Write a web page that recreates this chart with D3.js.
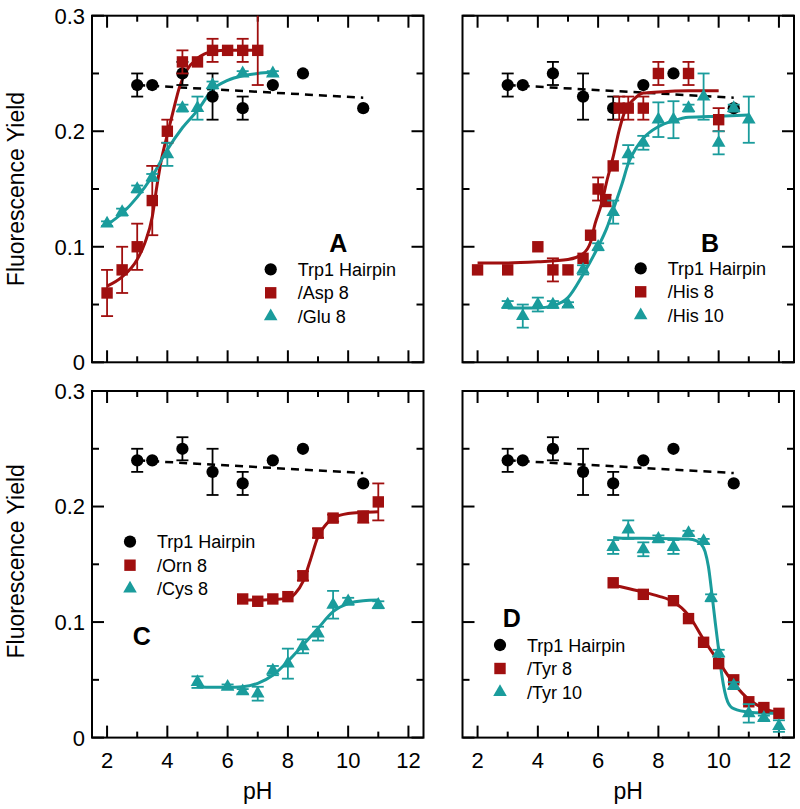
<!DOCTYPE html>
<html><head><meta charset="utf-8">
<script src="https://cdn.jsdelivr.net/npm/d3@7"></script>
<style>body{margin:0;background:#fff} svg{display:block}</style>
</head><body>
<svg id="chart" width="800" height="809"></svg>
<script>
// ---------- DATA ----------
const xTickValues = [2,3,4,5,6,7,8,9,10,11,12];
const xTickLabels = [2,4,6,8,10,12];
const yTickValues = [0,0.05,0.1,0.15,0.2,0.25,0.3];
const yTickLabels = [0,0.1,0.2,0.3];

// Trp1 Hairpin (same in all panels)
const hairpinX   = [3,3.5,4.5,5.5,6.5,7.5,8.5,10.5];
const hairpinY   = [0.24,0.24,0.25,0.23,0.22,0.24,0.25,0.22];
const hairpinErr = [0.01,0,0.01,0.02,0.01,0,0,0];
const hairpinTrendX = [3,10.5];
const hairpinTrendY = [0.240,0.229];

// Panel A
const asp8X   = [2,2.5,3,3.5,4,4.5,5,5.5,6,6.5,7];
const asp8Y   = [0.06,0.08,0.10,0.14,0.20,0.26,0.26,0.27,0.27,0.27,0.27];
const asp8Err = [0.02,0.02,0.02,0.03,0.01,0.01,0,0.01,0,0.01,0.03];
const asp8FitX = [2,2.5,3,3.25,3.5,3.65,3.8,4,4.2,4.4,4.65,5,5.5,6,7];
const asp8FitY = [0.066,0.074,0.089,0.103,0.126,0.152,0.175,0.197,0.218,0.238,0.253,0.263,0.269,0.270,0.270];
const glu8X   = [2,2.5,3,3.5,4,4.5,5,5.5,6.5,7.5];
const glu8Y   = [0.12,0.13,0.15,0.16,0.18,0.22,0.22,0.24,0.25,0.25];
const glu8Err = [0.002,0.003,0.003,0.003,0.01,0.003,0.01,0.003,0.002,0.002];
const glu8FitX = [2,2.5,3,3.5,4,4.5,5,5.5,6,6.5,7,7.5];
const glu8FitY = [0.119,0.129,0.143,0.161,0.184,0.203,0.218,0.236,0.244,0.248,0.250,0.251];

// Panel B
const his8X   = [2,3,4,4.5,5,5.5,5.75,6,6.25,6.5,6.7,7,7.5,8,9,10];
const his8Y   = [0.08,0.08,0.10,0.08,0.08,0.09,0.11,0.15,0.14,0.17,0.22,0.22,0.22,0.25,0.25,0.21];
const his8Err = [0,0,0,0.01,0,0,0,0.01,0.005,0,0.01,0.01,0.01,0.01,0.01,0.01];
const his8FitX = [2,3,4,5,5.5,5.75,5.9,6.1,6.3,6.5,6.7,6.9,7.2,7.5,8,9,10];
const his8FitY = [0.086,0.086,0.087,0.089,0.094,0.104,0.120,0.136,0.158,0.178,0.201,0.218,0.228,0.233,0.234,0.235,0.235];
const his10X   = [3,3.5,4,4.5,5,5.5,6,6.5,7,7.5,8,8.5,9,9.5,10,10.5,11];
const his10Y   = [0.05,0.04,0.05,0.05,0.05,0.08,0.10,0.13,0.18,0.19,0.21,0.21,0.22,0.23,0.19,0.22,0.21];
const his10Err = [0.003,0.01,0.006,0.003,0.002,0.004,0.003,0.01,0.008,0.006,0.015,0.016,0.003,0.02,0.01,0.003,0.02];
const his10FitX = [3,4,4.5,5,5.5,6,6.3,6.5,6.8,7,7.3,7.5,8,8.5,9,10,11];
const his10FitY = [0.047,0.047,0.049,0.056,0.076,0.100,0.117,0.132,0.155,0.172,0.187,0.194,0.204,0.209,0.212,0.213,0.214];

// Panel C
const orn8X   = [6.5,7,7.5,8,8.5,9,9.5,10.5,11];
const orn8Y   = [0.12,0.118,0.12,0.122,0.14,0.177,0.19,0.191,0.204];
const orn8Err = [0,0,0,0,0.004,0.004,0.003,0.005,0.016];
const orn8FitX = [6.5,7,7.5,8,8.25,8.5,8.75,9,9.25,9.5,10,10.5,11];
const orn8FitY = [0.119,0.119,0.1195,0.1205,0.125,0.135,0.154,0.174,0.184,0.19,0.194,0.195,0.1955];
const cys8X   = [5,6,6.5,7,7.5,8,8.5,9,9.5,10,11];
const cys8Y   = [0.048,0.044,0.04,0.038,0.058,0.064,0.079,0.09,0.115,0.118,0.115];
const cys8Err = [0.005,0.002,0.002,0.006,0.004,0.013,0.006,0.006,0.012,0.003,0.003];
const cys8FitX = [5,5.5,6,6.5,7,7.5,8,8.5,9,9.5,10,10.5,11];
const cys8FitY = [0.044,0.0435,0.0435,0.044,0.047,0.054,0.066,0.080,0.0946,0.109,0.116,0.1185,0.119];

// Panel D
const tyr8X   = [6.5,7.5,8.5,9,9.5,10,10.5,11,11.5,12];
const tyr8Y   = [0.134,0.124,0.1185,0.103,0.0825,0.064,0.05,0.031,0.026,0.021];
const tyr8Err = [0,0,0,0,0,0,0,0,0,0];
const tyr8FitX = [6.5,7,7.5,8,8.5,9,9.5,10,10.5,11,11.5,12];
const tyr8FitY = [0.132,0.129,0.126,0.1225,0.1176,0.106,0.085,0.0657,0.047,0.033,0.0254,0.0216];
const tyr10X   = [6.5,7,7.5,8,8.5,9,9.5,9.75,10,10.5,11,11.5,12];
const tyr10Y   = [0.165,0.18,0.163,0.172,0.165,0.177,0.17,0.121,0.073,0.045,0.021,0.017,0.01];
const tyr10Err = [0.006,0.008,0.006,0.003,0.006,0.002,0.002,0.003,0.003,0.003,0.008,0.002,0.005];
const tyr10FitX = [6.5,7,8,9,9.25,9.4,9.55,9.66,9.78,9.89,10,10.1,10.2,10.3,10.5,11,12];
const tyr10FitY = [0.1733,0.1725,0.1724,0.1718,0.1705,0.168,0.161,0.148,0.1235,0.099,0.076,0.055,0.040,0.031,0.025,0.022,0.021];

// ---------- STYLE / LAYOUT ----------
const RED = "#a00f0f", TEAL = "#1a9c9c", BLACK = "#000";
const FONT = "'Liberation Sans', Arial, Helvetica, sans-serif";
const PW = 331.5, PH = 346.6;
const zip = (xs, ys, es) => xs.map((x,i) => ({x, y: ys[i], e: es ? es[i] : 0}));
const hairpin = {name:"Trp1 Hairpin", color:BLACK, shape:"circle", pts: zip(hairpinX,hairpinY,hairpinErr),
                 fit: zip(hairpinTrendX,hairpinTrendY), dashed:true};
const panels = [
  {label:"A", left:92, top:15.7, yLabels:true, xLabels:false, labelPos:[246.3,236], legendPos:[178.7,253.6],
   series:[hairpin,
     {name:"/Asp 8", color:RED, shape:"square", pts:zip(asp8X,asp8Y,asp8Err), fit:zip(asp8FitX,asp8FitY)},
     {name:"/Glu 8", color:TEAL, shape:"triangle", pts:zip(glu8X,glu8Y,glu8Err), fit:zip(glu8FitX,glu8FitY)}]},
  {label:"B", left:462.5, top:15.7, yLabels:false, xLabels:false, labelPos:[247.5,236], legendPos:[178.2,252.6],
   series:[hairpin,
     {name:"/His 8", color:RED, shape:"square", pts:zip(his8X,his8Y,his8Err), fit:zip(his8FitX,his8FitY)},
     {name:"/His 10", color:TEAL, shape:"triangle", pts:zip(his10X,his10Y,his10Err), fit:zip(his10FitX,his10FitY)}]},
  {label:"C", left:92, top:391, yLabels:true, xLabels:true, labelPos:[49.7,254], legendPos:[38,150.7],
   series:[hairpin,
     {name:"/Orn 8", color:RED, shape:"square", pts:zip(orn8X,orn8Y,orn8Err), fit:zip(orn8FitX,orn8FitY)},
     {name:"/Cys 8", color:TEAL, shape:"triangle", pts:zip(cys8X,cys8Y,cys8Err), fit:zip(cys8FitX,cys8FitY)}]},
  {label:"D", left:462.5, top:391, yLabels:false, xLabels:true, labelPos:[49.2,236.3], legendPos:[37.5,254],
   series:[hairpin,
     {name:"/Tyr 8", color:RED, shape:"square", pts:zip(tyr8X,tyr8Y,tyr8Err), fit:zip(tyr8FitX,tyr8FitY)},
     {name:"/Tyr 10", color:TEAL, shape:"triangle", pts:zip(tyr10X,tyr10Y,tyr10Err), fit:zip(tyr10FitX,tyr10FitY)}]}
];

const svg = d3.select("#chart");
const symFor = {circle: d3.symbol().type(d3.symbolCircle).size(118),
                square: d3.symbol().type(d3.symbolSquare).size(130),
                triangle: d3.symbol().type(d3.symbolTriangle).size(80)};

panels.forEach(p => {
  const x = d3.scaleLinear().domain([1.5,12.5]).range([0,PW]);
  const y = d3.scaleLinear().domain([0,0.3]).range([PH,0]);
  const g = svg.append("g").attr("transform",`translate(${p.left},${p.top})`);

  // ticks (inward, all sides)
  const tk = g.append("g").attr("stroke","#000").attr("stroke-width",2);
  xTickValues.forEach(v => {
    const L = (v % 2 === 0) ? 12 : 6;
    tk.append("line").attr("x1",x(v)).attr("x2",x(v)).attr("y1",PH).attr("y2",PH-L);
    tk.append("line").attr("x1",x(v)).attr("x2",x(v)).attr("y1",0).attr("y2",L);
  });
  yTickValues.forEach(v => {
    const major = Math.abs(v*10 - Math.round(v*10)) < 1e-6;
    const L = major ? 12 : 7;
    tk.append("line").attr("x1",0).attr("x2",L).attr("y1",y(v)).attr("y2",y(v));
    tk.append("line").attr("x1",PW).attr("x2",PW-L).attr("y1",y(v)).attr("y2",y(v));
  });
  g.append("rect").attr("x",0).attr("y",0).attr("width",PW).attr("height",PH)
    .attr("fill","none").attr("stroke","#000").attr("stroke-width",2);

  if (p.yLabels) {
    g.selectAll(".ylab").data(yTickLabels).enter().append("text")
      .attr("x",-7).attr("y",d=>y(d)).attr("dy","0.36em").attr("text-anchor","end")
      .attr("font-family",FONT).attr("font-size",22).text(d => d===0 ? "0" : d3.format(".1f")(d));
  }
  if (p.xLabels) {
    g.selectAll(".xlab").data(xTickLabels).enter().append("text")
      .attr("x",d=>x(d)).attr("y",PH+30).attr("text-anchor","middle")
      .attr("font-family",FONT).attr("font-size",22).text(d=>d);
    g.append("text").attr("x",PW/2).attr("y",PH+61).attr("text-anchor","middle")
      .attr("font-family",FONT).attr("font-size",23).text("pH");
  }
  if (p.yLabels) {
    g.append("text").attr("transform",`translate(${24-p.left},${PH/2 + (p.top<100?0:-3)}) rotate(-90)`)
      .attr("text-anchor","middle").attr("font-family",FONT).attr("font-size",23).text("Fluorescence Yield");
  }

  const line = d3.line().x(d=>x(d.x)).y(d=>y(d.y)).curve(d3.curveMonotoneX);
  // fits
  p.series.forEach(s => {
    g.append("path").datum(s.fit).attr("d",line).attr("fill","none")
      .attr("stroke",s.color).attr("stroke-width", s.dashed ? 2.5 : 3)
      .attr("stroke-dasharray", s.dashed ? "8,6" : null);
  });
  // error bars & markers
  p.series.forEach(s => {
    const eg = g.append("g").attr("stroke",s.color).attr("stroke-width",1.8);
    s.pts.filter(d=>d.e>0).forEach(d => {
      const y1 = Math.max(y(d.y+d.e), 0), y2 = y(d.y-d.e);
      eg.append("line").attr("x1",x(d.x)).attr("x2",x(d.x)).attr("y1",y1).attr("y2",y2);
      if (d.y+d.e <= 0.3) eg.append("line").attr("x1",x(d.x)-6).attr("x2",x(d.x)+6).attr("y1",y1).attr("y2",y1);
      eg.append("line").attr("x1",x(d.x)-6).attr("x2",x(d.x)+6).attr("y1",y2).attr("y2",y2);
    });
    g.selectAll(null).data(s.pts).enter().append("path")
      .attr("d",symFor[s.shape]).attr("fill",s.color)
      .attr("transform",d=>`translate(${x(d.x)},${y(d.y)})`);
  });

  // panel label
  g.append("text").attr("x",p.labelPos[0]).attr("y",p.labelPos[1]).attr("text-anchor","middle")
    .attr("font-family",FONT).attr("font-weight","bold").attr("font-size",25).text(p.label);

  // legend
  p.series.forEach((s,i) => {
    const ly = p.legendPos[1] + i*23.5;
    g.append("path").attr("d",symFor[s.shape]).attr("fill",s.color)
      .attr("transform",`translate(${p.legendPos[0]},${ly})`);
    g.append("text").attr("x",p.legendPos[0]+27).attr("y",ly+6.5)
      .attr("font-family",FONT).attr("font-size",18).text(s.name);
  });
});
</script>
</body></html>
